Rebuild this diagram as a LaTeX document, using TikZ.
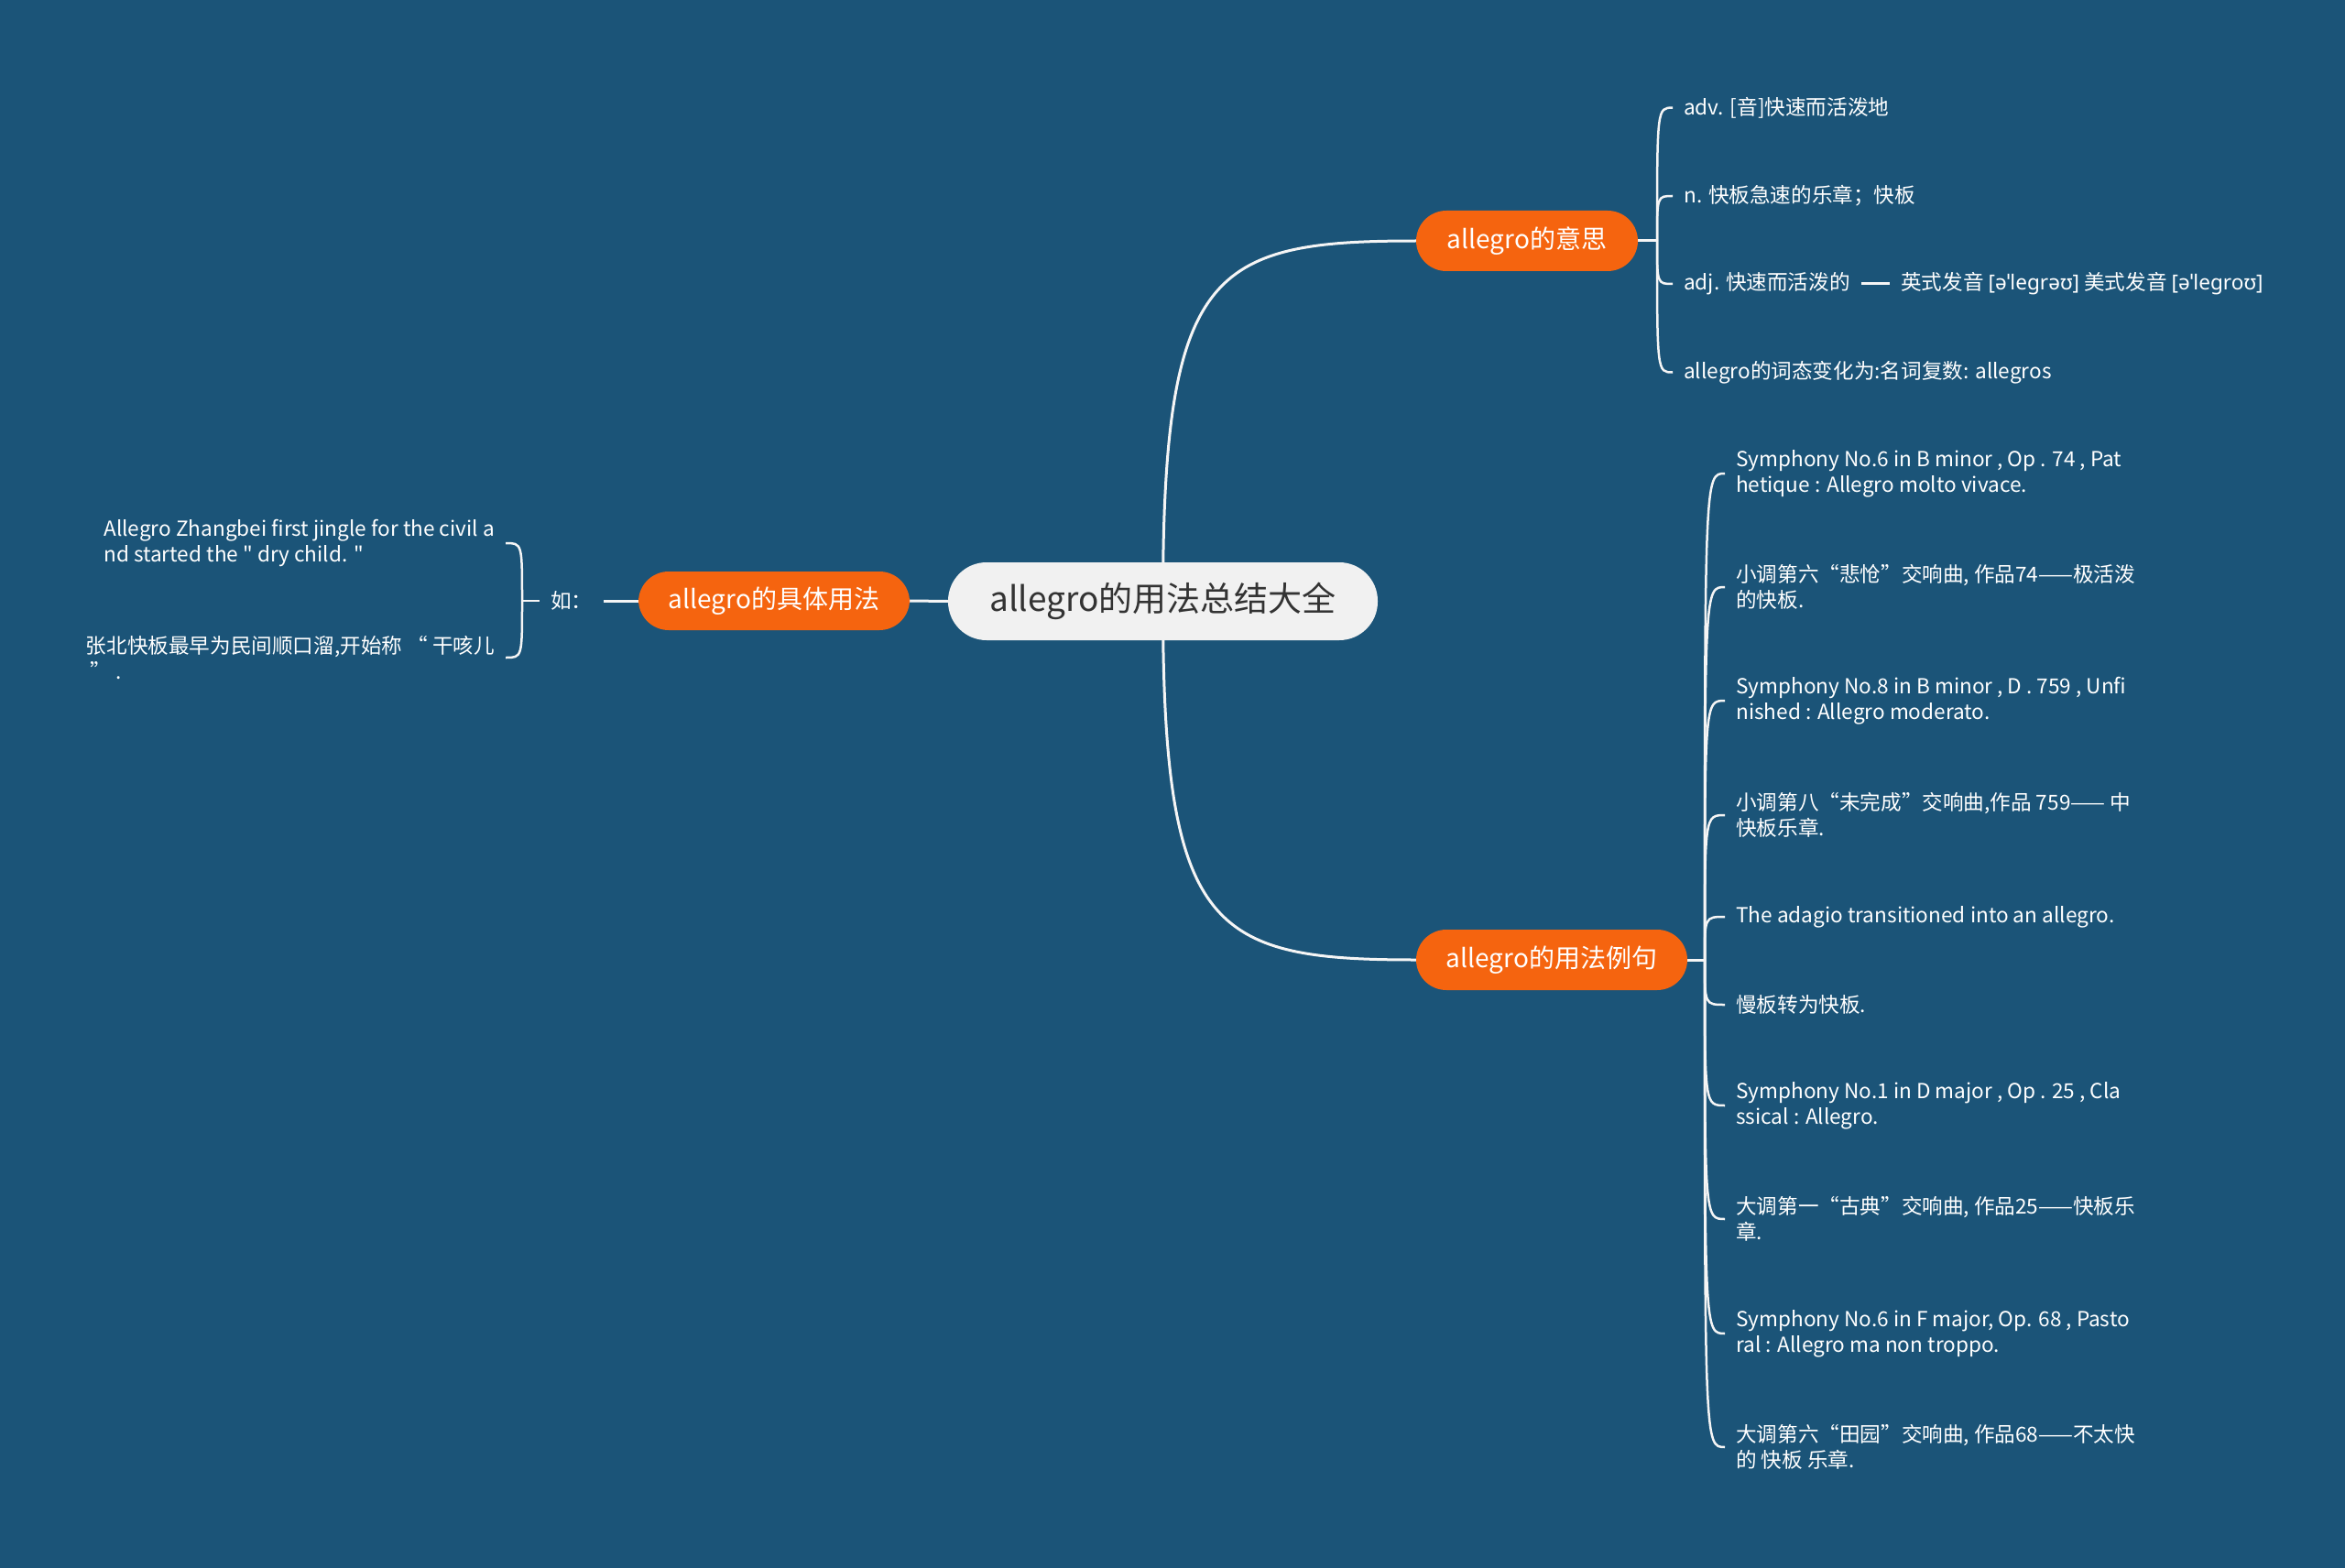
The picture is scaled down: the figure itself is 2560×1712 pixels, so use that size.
\documentclass[tikz,border=0pt]{standalone}
\usepackage{fontspec}
\setmainfont{Noto Sans CJK SC}[Ligatures=TeXOff]
\newfontfamily\ipafont{Noto Sans}
\usetikzlibrary{calc}
\definecolor{bg}{RGB}{27,84,120}
\definecolor{org}{RGB}{245,100,15}
\definecolor{ctr}{RGB}{241,241,241}
\definecolor{ln}{RGB}{245,245,245}
\definecolor{ctrtext}{RGB}{51,51,51}
\pgfdeclarelayer{bgl}
\pgfdeclarelayer{back}
\pgfsetlayers{bgl,back,main}
\begin{document}
\begin{tikzpicture}[x=1pt,y=-1pt,
  centerbox/.style={fill=ctr, text=ctrtext, rounded corners=42pt, minimum width=469pt, minimum height=85pt, font=\fontsize{37}{41}\selectfont, inner sep=0pt},
  mainbox/.style={fill=org, text=white, rounded corners=33pt, minimum height=66pt, font=\fontsize{28}{32}\selectfont, inner sep=0pt},
  leaf/.style={text=white, align=left, font=\fontsize{22.6}{28}\selectfont, inner xsep=12pt, inner ysep=0pt},
  mainline/.style={draw=ln, line width=3pt},
  leafline/.style={draw=ln, line width=2.5pt},
]
\begin{pgfonlayer}{bgl}
\fill[bg] (0,0) rectangle (2560,1712);
\end{pgfonlayer}
\useasboundingbox (0,0) rectangle (2560,1712);

% main nodes
\node[centerbox] (root) at (1269.5,656.5) {allegro的用法总结大全};
\node[mainbox, minimum width=242pt] (b1) at (1667,263) {allegro的意思};
\node[mainbox, minimum width=296pt] (b2) at (1694,1048) {allegro的用法例句};
\node[mainbox, minimum width=296pt, minimum height=64pt] (b3) at (845,656) {allegro的具体用法};

% branch 1 children
\coordinate (j1) at (1809,263);
\node[leaf, anchor=west] (c11) at (1826,117.6) {adv. [音]快速而活泼地};
\node[leaf, anchor=west] (c12) at (1826,214) {n. 快板急速的乐章；快板};
\node[leaf, anchor=west] (c13) at (1826,310) {adj. 快速而活泼的};
\node[leaf, anchor=west] (c131) at (2063,310) {英式发音 {\ipafont [əˈlegrəʊ]} 美式发音 {\ipafont [əˈlegroʊ]}};
\node[leaf, anchor=west] (c14) at (1826,406.5) {allegro的词态变化为:名词复数: allegros};

% branch 2 children
\coordinate (j2) at (1861,1048);
\node[leaf, anchor=west] (c21) at (1883,517) {Symphony No.6 in B minor , Op . 74 , Pat\\hetique : Allegro molto vivace.};
\node[leaf, anchor=west] (c22) at (1883,641) {小调第六“悲怆”交响曲, 作品74——极活泼\\的快板.};
\node[leaf, anchor=west] (c23) at (1883,765) {Symphony No.8 in B minor , D . 759 , Unfi\\nished : Allegro moderato.};
\node[leaf, anchor=west] (c24) at (1883,890) {小调第八“未完成”交响曲,作品 759—— 中\\快板乐章.};
\node[leaf, anchor=west] (c25) at (1883,1001) {The adagio transitioned into an allegro.};
\node[leaf, anchor=west] (c26) at (1883,1097) {慢板转为快板.};
\node[leaf, anchor=west] (c27) at (1883,1207) {Symphony No.1 in D major , Op . 25 , Cla\\ssical : Allegro.};
\node[leaf, anchor=west] (c28) at (1883,1331) {大调第一“古典”交响曲, 作品25——快板乐\\章.};
\node[leaf, anchor=west] (c29) at (1883,1456) {Symphony No.6 in F major, Op. 68 , Pasto\\ral : Allegro ma non troppo.};
\node[leaf, anchor=west] (c210) at (1883,1580) {大调第六“田园”交响曲, 作品68——不太快\\的 快板 乐章.};

% branch 3 children
\node[leaf, anchor=west] (ru) at (589,656) {如：};
\coordinate (j3) at (570,656);
\node[leaf, anchor=east] (l1) at (552,593) {Allegro Zhangbei first jingle for the civil a\\nd started the " dry child. "};
\node[leaf, anchor=east] (l2) at (552,718) {张北快板最早为民间顺口溜,开始称 “ 干咳儿\\\hspace*{0.2em}” .};

\begin{pgfonlayer}{back}
% root to branches
\draw[mainline] (root.center) .. controls ($(root.center|-b1.west)+(0,31)$) and ($(b1.west)+(-224,0)$) .. (b1.west);
\draw[mainline] (root.center) .. controls ($(root.center|-b2.west)+(0,-31)$) and ($(b2.west)+(-224,0)$) .. (b2.west);
\draw[mainline] (root.west) -- (b3.east);

% branch 1
\draw[mainline] (b1.east) -- (j1);
\foreach \c in {c11,c12,c13,c14}
  \draw[leafline] (j1) .. controls (j1 |- \c.west) and (j1 |- \c.west) .. (\c.west);
\draw[mainline] (c13.east) -- (c131.west);

% branch 2
\draw[mainline] (b2.east) -- (j2);
\foreach \c in {c21,c22,c23,c24,c25,c26,c27,c28,c29,c210}
  \draw[leafline] (j2) .. controls (j2 |- \c.west) and (j2 |- \c.west) .. (\c.west);

% branch 3
\draw[mainline] (b3.west) -- (ru.east);
\draw[leafline] (ru.west) -- (j3);
\foreach \c in {l1,l2}
  \draw[leafline] (j3) .. controls (j3 |- \c.east) and (j3 |- \c.east) .. (\c.east);
\end{pgfonlayer}
\end{tikzpicture}
\end{document}
